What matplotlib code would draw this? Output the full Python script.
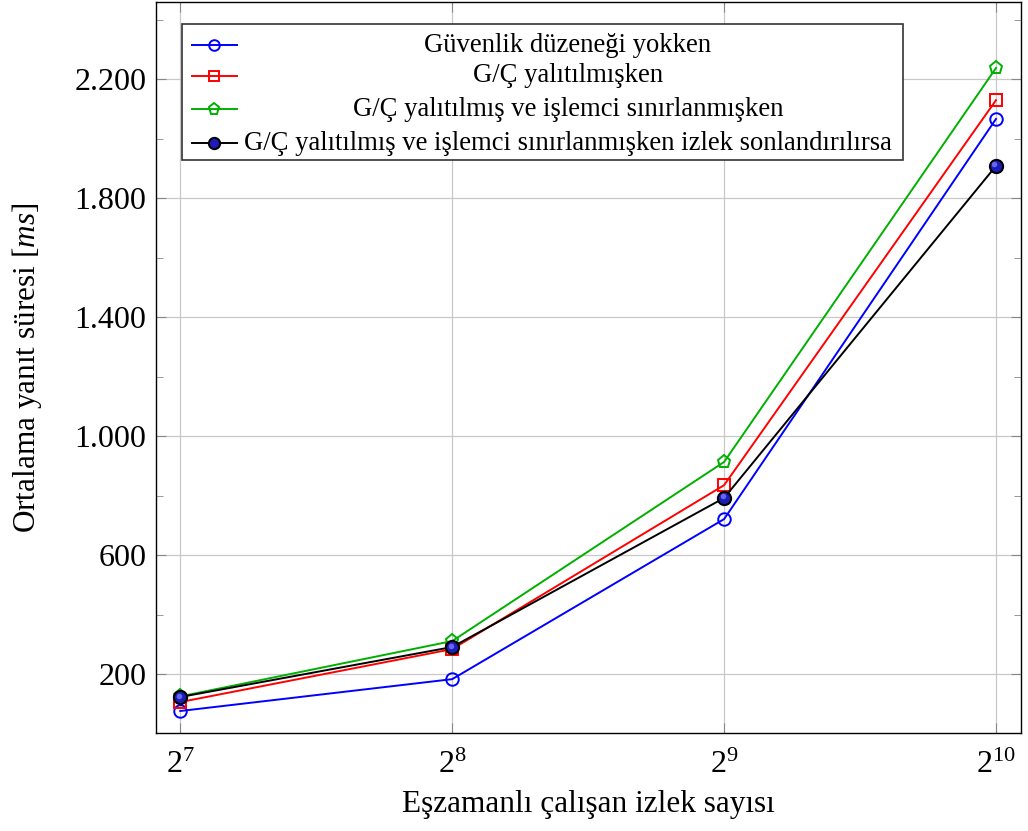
import numpy as np
import matplotlib
matplotlib.use("Agg")
import matplotlib.pyplot as plt
import matplotlib.transforms as mtransforms
from matplotlib.ticker import FixedLocator, FuncFormatter, NullLocator
from matplotlib.patches import Rectangle
from matplotlib.lines import Line2D

plt.rcParams['font.family'] = ['Liberation Serif', 'DejaVu Serif']
plt.rcParams['mathtext.fontset'] = 'custom'
plt.rcParams['mathtext.rm'] = 'Liberation Serif'
plt.rcParams['mathtext.it'] = 'Liberation Serif:italic'

# thread counts and mean response times (ms)
threads = [128, 256, 512, 1024]
no_guard = [76, 183, 721, 2066]
io_isolated = [106, 284, 835, 2129]
io_cpu_limited = [125, 311, 913, 2237]
io_cpu_killed = [123, 291, 792, 1908]

labels = [
    "Güvenlik düzeneği yokken",
    "G/Ç yalıtılmışken",
    "G/Ç yalıtılmış ve işlemci sınırlanmışken",
    "G/Ç yalıtılmış ve işlemci sınırlanmışken izlek sonlandırılırsa",
]
ytick_vals = [200, 600, 1000, 1400, 1800, 2200]

styles = [
    dict(color='blue', marker='o', mfc='none', mec='blue', ms=9, mew=1.4),
    dict(color='red', marker='s', mfc='none', mec='red', ms=9, mew=1.4),
    dict(color='#00b000', marker='p', mfc='none', mec='#00b000', ms=9.5, mew=1.4),
    dict(color='black', marker='o', mfc='#1c1cb8', mec='black', ms=9.5, mew=1.5),
]

fig = plt.figure(figsize=(10.28, 8.31), dpi=100)
ax = fig.add_axes([0.1518, 0.1179, 0.8414, 0.8797])

series = [no_guard, io_isolated, io_cpu_limited, io_cpu_killed]
for vals, st in zip(series, styles):
    ax.plot(threads, vals, lw=1.4, zorder=3, **st)
# shine on the ball markers, nudged up-left
shine = mtransforms.offset_copy(ax.transData, fig=fig, x=-1.5, y=1.5, units='dots')
ax.plot(threads, io_cpu_killed, ls='none', marker='o', ms=4, mfc='#7a7aff',
        mec='none', alpha=0.8, zorder=4, transform=shine)

ax.set_xscale('log', base=2)
ax.set_xlim(2 ** 6.911, 2 ** 10.092)
ax.set_ylim(2, 2459)

ax.xaxis.set_major_locator(FixedLocator(threads))
ax.xaxis.set_minor_locator(NullLocator())
ax.xaxis.set_major_formatter(FuncFormatter(lambda v, p: r'$2^{%d}$' % round(np.log2(v))))
ax.yaxis.set_major_locator(FixedLocator(ytick_vals))
ax.yaxis.set_minor_locator(FixedLocator([400, 800, 1200, 1600, 2000, 2400]))
ax.yaxis.set_major_formatter(FuncFormatter(lambda v, p: f"{int(v):,}".replace(',', '.')))

ax.grid(True, which='major', color='#c8c8c8', lw=0.9, zorder=0)
ax.tick_params(which='both', direction='in', top=True, right=True, color='#888888',
               labelsize=23)
ax.tick_params(which='major', length=7)
ax.tick_params(which='minor', length=5)
ax.tick_params(axis='x', pad=13)
ax.tick_params(axis='y', pad=7)
for s in ax.spines.values():
    s.set_linewidth(1.0)

ax.set_xlabel("Eşzamanlı çalışan izlek sayısı", fontsize=22.5, labelpad=7)
ax.set_ylabel("Ortalama yanıt süresi [$ms$]", fontsize=22.5, labelpad=22)

# legend box with centred entries
fw, fh = 1028, 831
def fx(px):
    return px / fw
def fy(py):
    return 1 - py / fh

fig.patches.append(Rectangle((fx(182), fy(160)), fx(903) - fx(182), (160 - 24) / fh,
                             transform=fig.transFigure, facecolor='white',
                             edgecolor='#333333', lw=1.2, zorder=5))
rows = [45, 76, 109, 143]
for py, lab, st in zip(rows, labels, styles):
    y = fy(py)
    fig.lines.append(Line2D([fx(192), fx(237)], [y, y], transform=fig.transFigure,
                            color=st['color'], lw=1.4, zorder=6))
    fig.lines.append(Line2D([fx(214)], [y], transform=fig.transFigure, ls='none',
                            marker=st['marker'], mfc=st['mfc'], mec=st['mec'],
                            ms=st['ms'] * 0.85, mew=st['mew'], zorder=7))
    fig.text(fx(568), y, lab, ha='center', va='center', fontsize=19.2, zorder=8)

fig.savefig("out.png", dpi=100)
